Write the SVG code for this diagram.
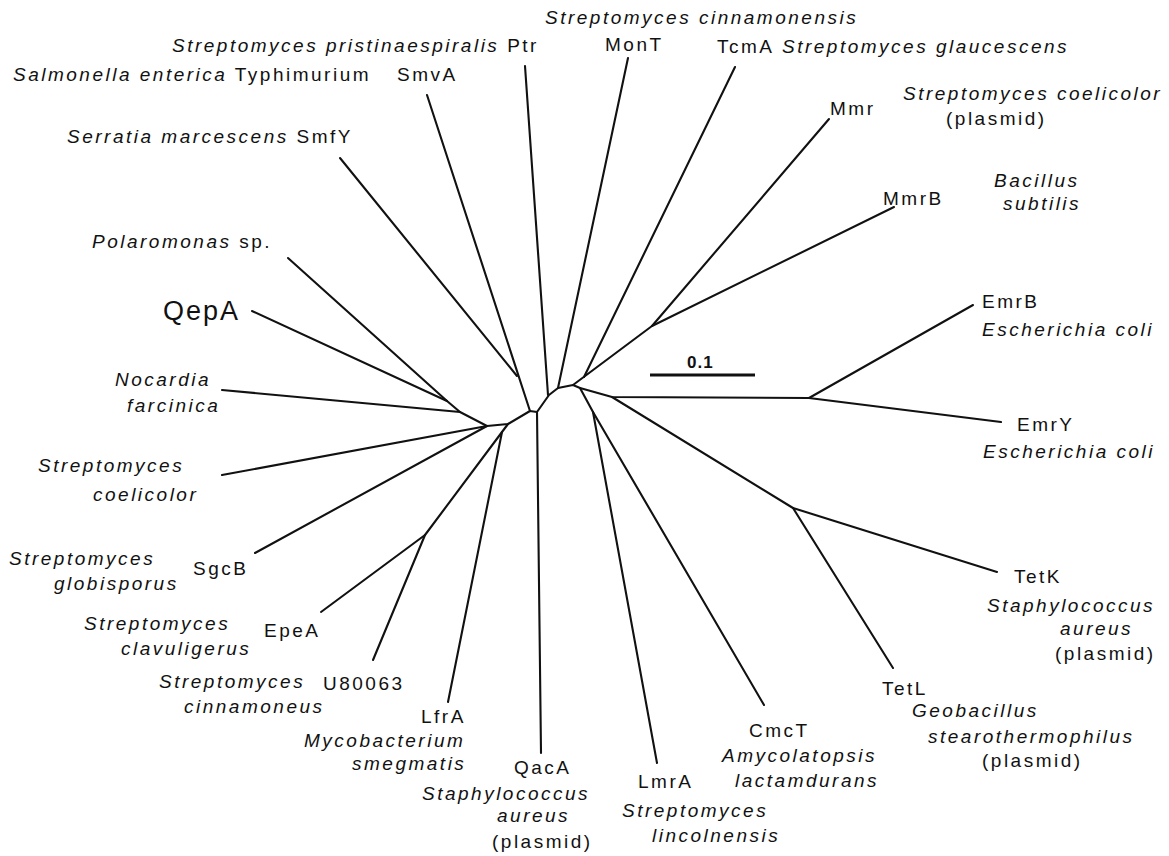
<svg xmlns="http://www.w3.org/2000/svg" width="1169" height="856" viewBox="0 0 1169 856">
<style>
text{font-family:"Liberation Sans",Arial,Helvetica,sans-serif;font-size:19px;letter-spacing:2.5px;fill:#111}
.i{font-style:italic}
.big{font-size:27px;letter-spacing:2px}
.sb{font-weight:bold;font-size:17px;letter-spacing:1px}
.br{fill:none;stroke:#111;stroke-width:2.1;stroke-linecap:round;stroke-linejoin:round}
</style>
<rect width="1169" height="856" fill="#fff"/>
<g id="connectors" class="br">
<polyline points="487,426 508,424 530,411 537,412 549,395 558,388 573,385 580,388"/>
<line x1="340" y1="158" x2="517" y2="376"/>
<line x1="427" y1="95" x2="530" y2="411"/>
<line x1="525" y1="66" x2="548" y2="395"/>
<line x1="628" y1="58" x2="558" y2="388"/>
<line x1="735" y1="67" x2="584" y2="377"/>
<line x1="829" y1="119" x2="652" y2="326"/>
<line x1="894" y1="207" x2="652" y2="326"/>
<line x1="652" y1="326" x2="573" y2="385"/>
<polyline points="580,388 612,397 809,398"/>
<line x1="973" y1="305" x2="809" y2="398"/>
<line x1="809" y1="398" x2="1001" y2="422"/>
<line x1="612" y1="397" x2="793" y2="508"/>
<line x1="793" y1="508" x2="997" y2="572"/>
<line x1="793" y1="508" x2="893" y2="668"/>
<line x1="580" y1="388" x2="593" y2="412"/>
<line x1="593" y1="412" x2="657" y2="763"/>
<line x1="593" y1="412" x2="764" y2="705"/>
<polyline points="537,412 539,583 541,753"/>
<line x1="288" y1="258" x2="447" y2="401"/>
<line x1="252" y1="311" x2="447" y2="401"/>
<polyline points="447,401 460,412 487,426"/>
<line x1="222" y1="390" x2="460" y2="412"/>
<line x1="222" y1="475" x2="487" y2="426"/>
<line x1="255" y1="553" x2="487" y2="426"/>
<polyline points="508,424 502,432 425,535"/>
<line x1="502" y1="432" x2="448" y2="702"/>
<line x1="321" y1="612" x2="425" y2="535"/>
<line x1="373" y1="660" x2="425" y2="535"/>
</g>
<g id="scale">
<line x1="650" y1="375" x2="755" y2="375" stroke="#111" stroke-width="3"/>
<text class="sb" x="687" y="368">0.1</text>
</g>
<g id="n-cinnamonensis"><text class="i" x="545" y="24">Streptomyces cinnamonensis</text><text x="605" y="51">MonT</text></g>
<g id="n-tcma"><text x="717" y="53">TcmA</text><text class="i" x="782" y="53">Streptomyces glaucescens</text></g>
<g id="n-ptr"><text x="172" y="52"><tspan class="i">Streptomyces pristinaespiralis</tspan> Ptr</text></g>
<g id="n-smva"><text x="13" y="81"><tspan class="i">Salmonella enterica</tspan> Typhimurium</text><text x="397" y="81">SmvA</text></g>
<g id="n-mmr"><text class="i" x="903" y="100">Streptomyces coelicolor</text><text x="946" y="125">(plasmid)</text><text x="830" y="115">Mmr</text></g>
<g id="n-smfy"><text x="67" y="143"><tspan class="i">Serratia marcescens</tspan> SmfY</text></g>
<g id="n-mmrb"><text class="i" x="994" y="187">Bacillus</text><text class="i" x="1003" y="210">subtilis</text><text x="883" y="205">MmrB</text></g>
<g id="n-polaromonas"><text x="92" y="248"><tspan class="i">Polaromonas</tspan> sp.</text></g>
<g id="n-qepa"><text class="big" x="163" y="320">QepA</text></g>
<g id="n-emrb"><text x="982" y="308">EmrB</text><text class="i" x="982" y="336">Escherichia coli</text></g>
<g id="n-nocardia"><text class="i" x="115" y="386">Nocardia</text><text class="i" x="127" y="412">farcinica</text></g>
<g id="n-emry"><text x="1017" y="431">EmrY</text><text class="i" x="983" y="458">Escherichia coli</text></g>
<g id="n-scoelicolor"><text class="i" x="38" y="472">Streptomyces</text><text class="i" x="93" y="501">coelicolor</text></g>
<g id="n-sgcb"><text class="i" x="9" y="565">Streptomyces</text><text class="i" x="54" y="590">globisporus</text><text x="193" y="575">SgcB</text></g>
<g id="n-epea"><text class="i" x="84" y="630">Streptomyces</text><text class="i" x="121" y="655">clavuligerus</text><text x="264" y="637">EpeA</text></g>
<g id="n-u80063"><text class="i" x="159" y="688">Streptomyces</text><text class="i" x="184" y="713">cinnamoneus</text><text x="323" y="690">U80063</text></g>
<g id="n-lfra"><text x="421" y="723">LfrA</text><text class="i" x="304" y="747">Mycobacterium</text><text class="i" x="352" y="770">smegmatis</text></g>
<g id="n-qaca"><text x="514" y="774">QacA</text><text class="i" x="422" y="800">Staphylococcus</text><text class="i" x="497" y="822">aureus</text><text x="492" y="848">(plasmid)</text></g>
<g id="n-lmra"><text x="638" y="788">LmrA</text><text class="i" x="622" y="817">Streptomyces</text><text class="i" x="652" y="842">lincolnensis</text></g>
<g id="n-cmct"><text x="749" y="737">CmcT</text><text class="i" x="722" y="762">Amycolatopsis</text><text class="i" x="735" y="787">lactamdurans</text></g>
<g id="n-tetl"><text x="882" y="695">TetL</text><text class="i" x="912" y="717">Geobacillus</text><text class="i" x="928" y="743">stearothermophilus</text><text x="982" y="767">(plasmid)</text></g>
<g id="n-tetk"><text x="1014" y="583">TetK</text><text class="i" x="987" y="612">Staphylococcus</text><text class="i" x="1060" y="635">aureus</text><text x="1055" y="660">(plasmid)</text></g>
</svg>
